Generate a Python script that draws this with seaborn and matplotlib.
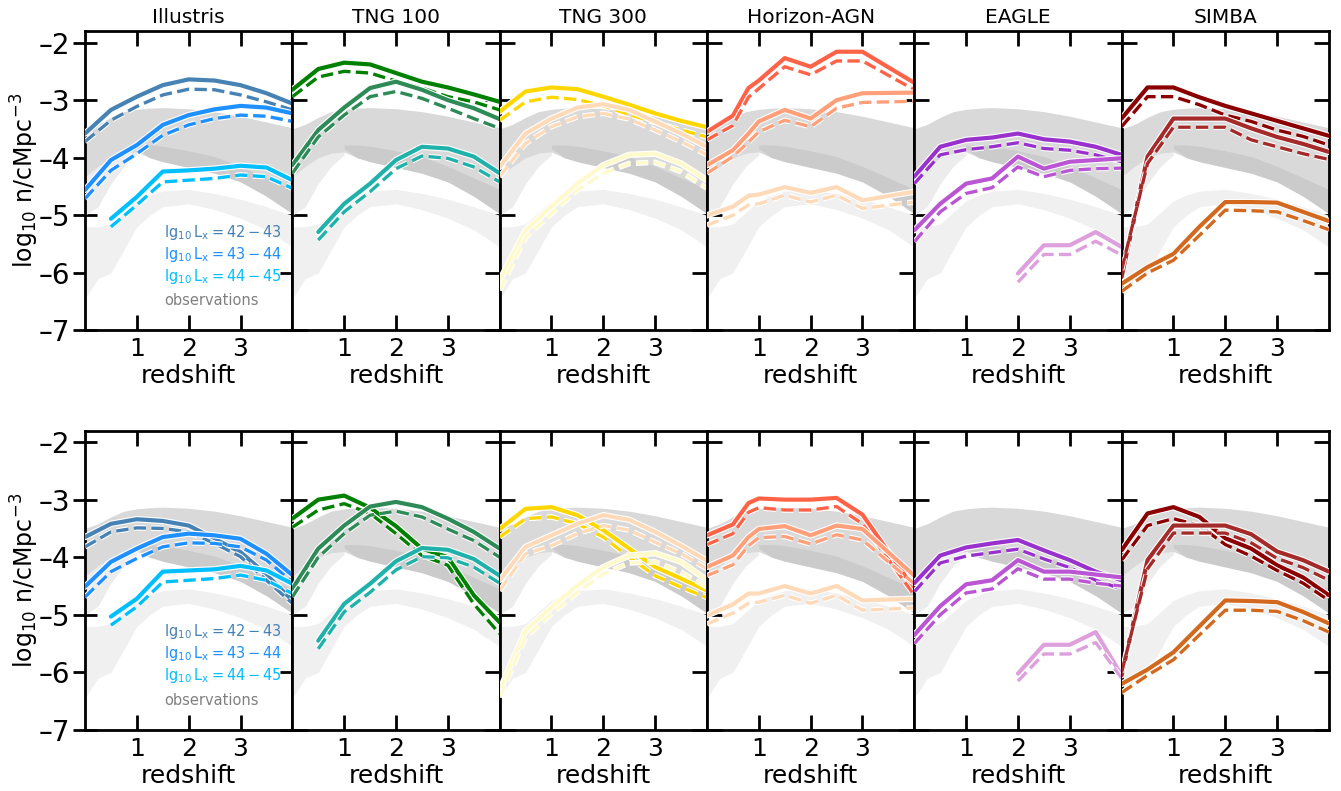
import numpy as np
import matplotlib
matplotlib.use("Agg")
import matplotlib.pyplot as plt
import matplotlib.patheffects as pe
from matplotlib.ticker import FuncFormatter
import seaborn as sns

nan = np.nan

# ---------------- data ----------------
sims = ["Illustris", "TNG 100", "TNG 300", "Horizon-AGN", "EAGLE", "SIMBA"]
bins = ["42-43", "43-44", "44-45"]
legend_labels = [r"$\mathrm{lg_{10}\,L_x=42-43}$", r"$\mathrm{lg_{10}\,L_x=43-44}$",
                 r"$\mathrm{lg_{10}\,L_x=44-45}$"]

z_std = [0, 0.5, 1.0, 1.5, 2.0, 2.5, 3.0, 3.5, 4.0]
z_hagn = [0, 0.5, 0.8, 1.0, 1.5, 2.0, 2.5, 3.0, 4.0]

col_ill = ["#4682B4", "#1E90FF", "#00BFFF"]
col_tng100 = ["#008000", "#2E8B57", "#20B2AA"]
col_tng300 = ["#FFD700", "#FFDAB9", "#FFFACD"]
col_hagn = ["#FF6347", "#FFA07A", "#FFDAB9"]
col_eagle = ["#9932CC", "#BA55D3", "#DDA0DD"]
col_simba = ["#8B0000", "#A52A2A", "#D2691E"]

# top row
ill_top_solid = [[-3.58, -3.17, -2.94, -2.74, -2.64, -2.66, -2.74, -2.88, -3.06],
                 [-4.56, -4.04, -3.78, -3.43, -3.26, -3.16, -3.10, -3.13, -3.23],
                 [nan, -5.06, -4.68, -4.24, -4.22, -4.19, -4.14, -4.17, -4.39]]
ill_top_dash = [[-3.72, -3.35, -3.11, -2.91, -2.81, -2.82, -2.91, -3.03, -3.17],
                [-4.71, -4.22, -3.93, -3.61, -3.43, -3.32, -3.26, -3.28, -3.37],
                [nan, -5.20, -4.82, -4.42, -4.39, -4.36, -4.30, -4.33, -4.53]]
tng100_top_solid = [[-2.82, -2.46, -2.35, -2.38, -2.53, -2.68, -2.78, -2.90, -3.03],
                    [-4.13, -3.52, -3.13, -2.79, -2.68, -2.82, -3.00, -3.14, -3.33],
                    [nan, -5.29, -4.80, -4.45, -4.04, -3.81, -3.84, -3.98, -4.27]]
tng100_top_dash = [[-2.94, -2.60, -2.50, -2.53, -2.67, -2.79, -2.94, -3.03, -3.17],
                   [-4.27, -3.64, -3.26, -2.94, -2.85, -2.97, -3.14, -3.32, -3.49],
                   [nan, -5.43, -4.94, -4.59, -4.19, -3.97, -4.01, -4.16, -4.42]]
tng300_top_solid = [[-3.20, -2.85, -2.78, -2.81, -2.94, -3.08, -3.23, -3.36, -3.47],
                    [-4.16, -3.58, -3.32, -3.13, -3.07, -3.17, -3.37, -3.58, -3.81],
                    [-6.13, -5.26, -4.85, -4.45, -4.13, -3.95, -3.93, -4.10, -4.39]]
tng300_top_dash = [[-3.35, -3.03, -2.95, -2.99, -3.10, -3.25, -3.39, -3.52, -3.64],
                   [-4.33, -3.75, -3.46, -3.29, -3.23, -3.33, -3.52, -3.72, -3.95],
                   [-6.30, -5.38, -4.97, -4.56, -4.27, -4.10, -4.08, -4.24, -4.53]]
hagn_top_solid = [[-3.55, -3.27, -2.79, -2.66, -2.27, -2.42, -2.16, -2.16, -2.70],
                  [-4.13, -3.87, -3.58, -3.37, -3.17, -3.32, -3.00, -2.88, -2.87],
                  [-5.00, -4.85, -4.66, -4.64, -4.51, -4.61, -4.51, -4.74, -4.59]]
hagn_top_dash = [[-3.69, -3.44, -2.95, -2.80, -2.42, -2.56, -2.32, -2.32, -2.82],
                 [-4.27, -3.98, -3.73, -3.55, -3.35, -3.46, -3.14, -3.04, -3.02],
                 [-5.17, -5.00, -4.82, -4.80, -4.65, -4.77, -4.65, -4.88, -4.77]]
eagle_top_solid = [[-4.33, -3.81, -3.69, -3.65, -3.58, -3.68, -3.72, -3.81, -3.95],
                   [-5.26, -4.80, -4.45, -4.36, -3.98, -4.19, -4.07, -4.04, -4.01],
                   [nan, nan, nan, nan, -6.01, -5.52, -5.52, -5.29, -5.55]]
eagle_top_dash = [[-4.45, -3.95, -3.86, -3.81, -3.74, -3.84, -3.87, -3.95, -4.07],
                  [-5.46, -4.94, -4.62, -4.52, -4.16, -4.33, -4.22, -4.19, -4.18],
                  [nan, nan, nan, nan, -6.16, -5.68, -5.68, -5.45, -5.69]]
simba_top_solid = [[-3.32, -2.78, -2.78, -2.95, -3.10, -3.23, -3.36, -3.49, -3.62],
                   [-6.07, -3.98, -3.32, -3.32, -3.32, -3.49, -3.64, -3.76, -3.90],
                   [-6.19, -5.90, -5.67, -5.20, -4.77, -4.77, -4.78, -4.94, -5.10]]
simba_top_dash = [[-3.46, -2.94, -2.94, -3.08, -3.26, -3.37, -3.52, -3.63, -3.78],
                  [-5.95, -4.10, -3.47, -3.47, -3.47, -3.69, -3.81, -3.93, -4.03],
                  [-6.32, -6.00, -5.78, -5.35, -4.91, -4.92, -4.94, -5.09, -5.25]]

# bottom row
ill_bot_solid = [[-3.65, -3.42, -3.34, -3.37, -3.45, -3.68, -3.91, -4.30, -4.75],
                 [-4.51, -4.08, -3.85, -3.65, -3.59, -3.62, -3.68, -3.94, -4.31],
                 [nan, -5.03, -4.72, -4.25, -4.23, -4.21, -4.15, -4.23, -4.46]]
ill_bot_dash = [[-3.82, -3.56, -3.49, -3.50, -3.56, -3.76, -3.99, -4.40, -4.80],
                [-4.69, -4.25, -4.02, -3.82, -3.75, -3.76, -3.82, -4.05, -4.43],
                [nan, -5.18, -4.86, -4.43, -4.40, -4.37, -4.31, -4.40, -4.63]]
tng100_bot_solid = [[-3.33, -3.00, -2.93, -3.14, -3.46, -3.85, -4.00, -4.66, -5.13],
                    [-4.55, -3.85, -3.45, -3.12, -3.04, -3.13, -3.33, -3.56, -3.85],
                    [nan, -5.45, -4.81, -4.46, -4.07, -3.84, -3.87, -4.03, -4.32]]
tng100_bot_dash = [[-3.48, -3.18, -3.07, -3.24, -3.59, -3.97, -4.14, -4.81, -5.33],
                   [-4.69, -4.00, -3.59, -3.27, -3.20, -3.30, -3.51, -3.71, -4.00],
                   [nan, -5.59, -4.95, -4.61, -4.22, -3.99, -4.01, -4.17, -4.45]]
tng300_bot_solid = [[-3.51, -3.16, -3.13, -3.27, -3.53, -3.85, -4.17, -4.37, -4.58],
                    [-4.40, -3.82, -3.62, -3.42, -3.27, -3.35, -3.56, -3.80, -4.06],
                    [-6.31, -5.27, -4.87, -4.49, -4.17, -3.97, -3.93, -4.08, -4.40]]
tng300_bot_dash = [[-3.65, -3.33, -3.30, -3.42, -3.65, -4.00, -4.32, -4.52, -4.70],
                   [-4.58, -3.94, -3.80, -3.59, -3.45, -3.53, -3.74, -3.94, -4.20],
                   [-6.43, -5.39, -4.98, -4.61, -4.29, -4.10, -4.08, -4.26, -4.52]]
hagn_bot_solid = [[-3.62, -3.43, -3.06, -2.98, -3.00, -3.00, -2.97, -3.26, -4.55],
                  [-4.17, -3.97, -3.65, -3.51, -3.46, -3.62, -3.45, -3.51, -4.32],
                  [-5.01, -4.82, -4.63, -4.63, -4.50, -4.63, -4.50, -4.75, -4.72]]
hagn_bot_dash = [[-3.78, -3.59, -3.22, -3.14, -3.18, -3.18, -3.12, -3.42, -4.66],
                 [-4.32, -4.13, -3.80, -3.66, -3.64, -3.77, -3.61, -3.70, -4.46],
                 [-5.16, -4.97, -4.80, -4.78, -4.66, -4.80, -4.66, -4.92, -4.88]]
eagle_bot_solid = [[-4.45, -3.97, -3.83, -3.76, -3.70, -3.88, -4.05, -4.25, -4.40],
                   [-5.35, -4.85, -4.47, -4.40, -4.05, -4.25, -4.25, -4.30, -4.35],
                   [nan, nan, nan, nan, -6.02, -5.52, -5.52, -5.30, -6.05]]
eagle_bot_dash = [[-4.60, -4.10, -3.98, -3.92, -3.86, -4.03, -4.18, -4.40, -4.55],
                  [-5.50, -5.00, -4.62, -4.55, -4.20, -4.38, -4.38, -4.45, -4.50],
                  [nan, nan, nan, nan, -6.15, -5.68, -5.68, -5.48, -6.10]]
simba_bot_solid = [[-3.88, -3.24, -3.13, -3.30, -3.67, -3.85, -4.14, -4.35, -4.66],
                   [-6.05, -4.05, -3.45, -3.45, -3.45, -3.60, -3.90, -4.05, -4.25],
                   [-6.20, -5.95, -5.65, -5.20, -4.75, -4.76, -4.78, -4.95, -5.15]]
simba_bot_dash = [[-4.05, -3.45, -3.33, -3.45, -3.78, -3.98, -4.23, -4.45, -4.75],
                  [-6.00, -4.20, -3.58, -3.58, -3.58, -3.75, -4.02, -4.18, -4.40],
                  [-6.35, -6.05, -5.78, -5.35, -4.92, -4.92, -4.94, -5.10, -5.30]]

# observational bands (grey shading)
obs_z = [0, 0.25, 0.5, 0.75, 1.0, 1.25, 1.5, 2.0, 2.5, 3.0, 3.5, 4.0]
obs_mid_hi = [-3.50, -3.42, -3.30, -3.20, -3.16, -3.14, -3.13, -3.15, -3.20, -3.28, -3.38, -3.48]
obs_mid_lo = [-4.33, -4.15, -4.00, -3.92, -3.90, -4.00, -4.05, -4.15, -4.25, -4.40, -4.65, -4.97]
obs_dark_hi = [nan, nan, nan, nan, -3.78, -3.78, -3.80, -3.88, -3.98, -4.15, -4.35, -4.55]
obs_dark_lo = [nan, nan, nan, nan, -3.84, -4.00, -4.07, -4.17, -4.27, -4.42, -4.67, -4.97]
obs_l2_hi = [-4.30, -4.12, -3.98, -3.90, -3.90, nan, nan, nan, nan, nan, nan, nan]
obs_l2_lo = [-5.00, -4.85, -4.45, -4.15, -3.95, nan, nan, nan, nan, nan, nan, nan]
obs_l3_hi = [-5.20, -5.20, -5.15, -4.95, -4.75, -4.65, -4.58, -4.55, -4.62, -4.72, -4.85, -5.00]
obs_l3_lo = [-6.45, -6.10, -6.00, -5.60, -5.20, -5.00, -4.85, -4.80, -4.90, -5.05, -5.25, -5.55]

# ---------------- figure ----------------
sns.set_style("ticks")
plt.rcParams["font.family"] = ["DejaVu Sans"]
plt.rcParams["mathtext.fontset"] = "dejavusans"
for key in ["axes.edgecolor", "xtick.color", "ytick.color", "text.color",
            "axes.labelcolor", "xtick.labelcolor", "ytick.labelcolor"]:
    plt.rcParams[key] = "black"

fig, axes = plt.subplots(2, 6, figsize=(13.41, 7.91), dpi=100, sharey=True)
fig.subplots_adjust(left=0.0634, right=0.991, top=0.9608, bottom=0.0771,
                    wspace=0.0, hspace=0.334)

rows = [
    [(ill_top_solid, ill_top_dash, col_ill, z_std),
     (tng100_top_solid, tng100_top_dash, col_tng100, z_std),
     (tng300_top_solid, tng300_top_dash, col_tng300, z_std),
     (hagn_top_solid, hagn_top_dash, col_hagn, z_hagn),
     (eagle_top_solid, eagle_top_dash, col_eagle, z_std),
     (simba_top_solid, simba_top_dash, col_simba, z_std)],
    [(ill_bot_solid, ill_bot_dash, col_ill, z_std),
     (tng100_bot_solid, tng100_bot_dash, col_tng100, z_std),
     (tng300_bot_solid, tng300_bot_dash, col_tng300, z_std),
     (hagn_bot_solid, hagn_bot_dash, col_hagn, z_hagn),
     (eagle_bot_solid, eagle_bot_dash, col_eagle, z_std),
     (simba_bot_solid, simba_bot_dash, col_simba, z_std)],
]

zo = np.array(obs_z)
ytick_fmt = FuncFormatter(lambda v, p: ("\u2013%d" % abs(round(v))) if v < 0 else "%d" % round(v))

def shade(ax, hi, lo, color):
    ax.fill_between(zo, np.array(hi), np.array(lo), color=color, lw=0, zorder=1)

for r in range(2):
    for c in range(6):
        ax = axes[r, c]
        shade(ax, obs_l3_hi, obs_l3_lo, "#f0f0f0")
        shade(ax, obs_l2_hi, obs_l2_lo, "#ececec")
        shade(ax, obs_mid_hi, obs_mid_lo, "#d9d9d9")
        shade(ax, obs_dark_hi, obs_dark_lo, "#cbcbcb")

        solid, dash, cols, zz = rows[r][c]
        for i in range(3):
            sns.lineplot(x=zz, y=solid[i], ax=ax, color=cols[i], lw=3.0,
                         linestyle="-", zorder=3,
                         path_effects=[pe.withStroke(linewidth=4.6, foreground="white")])
            sns.lineplot(x=zz, y=dash[i], ax=ax, color=cols[i], lw=2.4,
                         linestyle="--", zorder=3,
                         path_effects=[pe.withStroke(linewidth=4.0, foreground="white")])

        ax.set_xlim(0, 4.0)
        ax.set_ylim(-7, -1.8)
        ax.set_xticks([1, 2, 3])
        ax.set_yticks([-2, -3, -4, -5, -6, -7])
        ax.yaxis.set_major_formatter(ytick_fmt)
        ax.tick_params(axis="both", which="major", direction="in", length=11,
                       width=2, top=True, right=True, labelsize=18, pad=5,
                       color="black", labelcolor="black")
        if c == 0:
            ax.tick_params(axis="y", direction="inout", length=17, pad=2,
                           labelsize=20)
            ax.set_ylabel(r"$\log_{10}\,\mathrm{n/cMpc^{-3}}$", fontsize=17)
            ax.yaxis.set_label_coords(-0.21, 0.5)
            for i in range(3):
                ax.text(0.38, [0.328, 0.254, 0.181][i], legend_labels[i],
                        transform=ax.transAxes, color=cols[i], fontsize=10.5,
                        va="center", ha="left")
            ax.text(0.38, 0.10, "observations", transform=ax.transAxes,
                    color="grey", fontsize=10.5, va="center", ha="left")
        else:
            ax.tick_params(axis="y", labelleft=False)
            ax.set_ylabel("")
        ax.set_xlabel("redshift", fontsize=18, labelpad=2)
        for s in ax.spines.values():
            s.set_linewidth(2)
            s.set_color("black")
            s.set_visible(True)
        if r == 0:
            ax.set_title(sims[c], fontsize=14.5, pad=6)

fig.savefig("out.png", dpi=100)
